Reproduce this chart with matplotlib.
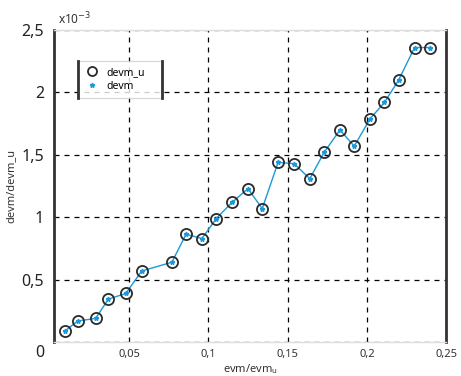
import numpy as np
import matplotlib
matplotlib.use("Agg")
import matplotlib.pyplot as plt
from matplotlib.ticker import FuncFormatter, MultipleLocator

plt.rcParams['font.family'] = ['Noto Sans', 'DejaVu Sans']

# data
evm = [0.0095, 0.0177, 0.029, 0.037, 0.048, 0.058, 0.077, 0.086, 0.096, 0.105,
       0.115, 0.125, 0.134, 0.144, 0.154, 0.164, 0.173, 0.183, 0.192, 0.202,
       0.211, 0.220, 0.230, 0.240]
devm_e3 = [0.088, 0.17, 0.19, 0.345, 0.39, 0.57, 0.64, 0.865, 0.83, 0.99,
           1.12, 1.23, 1.07, 1.44, 1.43, 1.31, 1.52, 1.70, 1.57, 1.79,
           1.92, 2.10, 2.36, 2.36]
devm = np.array(devm_e3) * 1e-3

fig = plt.figure(figsize=(4.61, 3.76), dpi=100)
ax = fig.add_axes([0.117, 0.090, 0.851, 0.830])

blue = '#1a9ad8'
ax.plot(evm, devm, '-', color=blue, lw=1.0, zorder=2)
ax.plot(evm, devm, 'o', ms=8, mfc='none', mec='#2a2a2a', mew=1.3, zorder=3, label='devm_u')
ax.plot(evm, devm, '*', ms=3.5, color=blue, mec=blue, zorder=4, label='devm')

ax.set_xlim(0.0027, 0.25)
ax.set_ylim(0, 2.5e-3)
ax.xaxis.set_major_locator(MultipleLocator(0.05))
ax.yaxis.set_major_locator(MultipleLocator(0.5e-3))

def comma(v):
    s = ('%.2f' % v).rstrip('0').rstrip('.')
    return s.replace('.', ',')

ax.xaxis.set_major_formatter(FuncFormatter(lambda v, p: '' if abs(v) < 1e-9 else comma(v)))
ax.yaxis.set_major_formatter(FuncFormatter(lambda v, p: '' if abs(v) < 1e-9 else comma(v * 1e3)))
ax.tick_params(axis='x', length=0, labelsize=8, colors='#333333', pad=5)
ax.tick_params(axis='y', length=0, labelsize=11.5, colors='#222222', pad=7)

ax.grid(True, color='black', ls=(0, (4, 4)), lw=0.9)
ax.set_axisbelow(True)

for s in ['left', 'right']:
    ax.spines[s].set_color('#333333')
    ax.spines[s].set_linewidth(2)
for s in ['top', 'bottom']:
    ax.spines[s].set_color('#dddddd')
    ax.spines[s].set_linewidth(1)

ax.text(0.01, 1.01, r'x10$^{-3}$', transform=ax.transAxes, fontsize=8.5,
        color='#333333', va='bottom', ha='left')
ax.text(-0.025, -0.01, '0', transform=ax.transAxes, fontsize=11.5, ha='right', va='top', color='#222222')

ax.set_xlabel('evm/evm$_\\mathregular{u}$', fontsize=8, color='#333333')
ax.xaxis.set_label_coords(0.5, -0.065)
ax.set_ylabel('devm/devm_u', fontsize=8, color='#333333')
ax.yaxis.set_label_coords(-0.095, 0.5)

leg = ax.legend(loc='upper left', bbox_to_anchor=(0.061, 0.785, 0.215, 0.115),
                mode='expand', fontsize=7.5, frameon=True, fancybox=False,
                edgecolor='#cccccc', handletextpad=0.6, borderpad=0.55,
                labelspacing=0.3, handlelength=1.6, borderaxespad=0)
leg.get_frame().set_linewidth(0.8)
leg.legend_handles[0].set_markersize(6.5)

fig.canvas.draw()
bb = leg.get_window_extent().transformed(ax.transAxes.inverted())
for xx in (bb.x0, bb.x1):
    ax.plot([xx, xx], [bb.y0, bb.y1], transform=ax.transAxes, color='#333333',
            lw=2, zorder=10, clip_on=False)

fig.savefig('out.png', dpi=100)
